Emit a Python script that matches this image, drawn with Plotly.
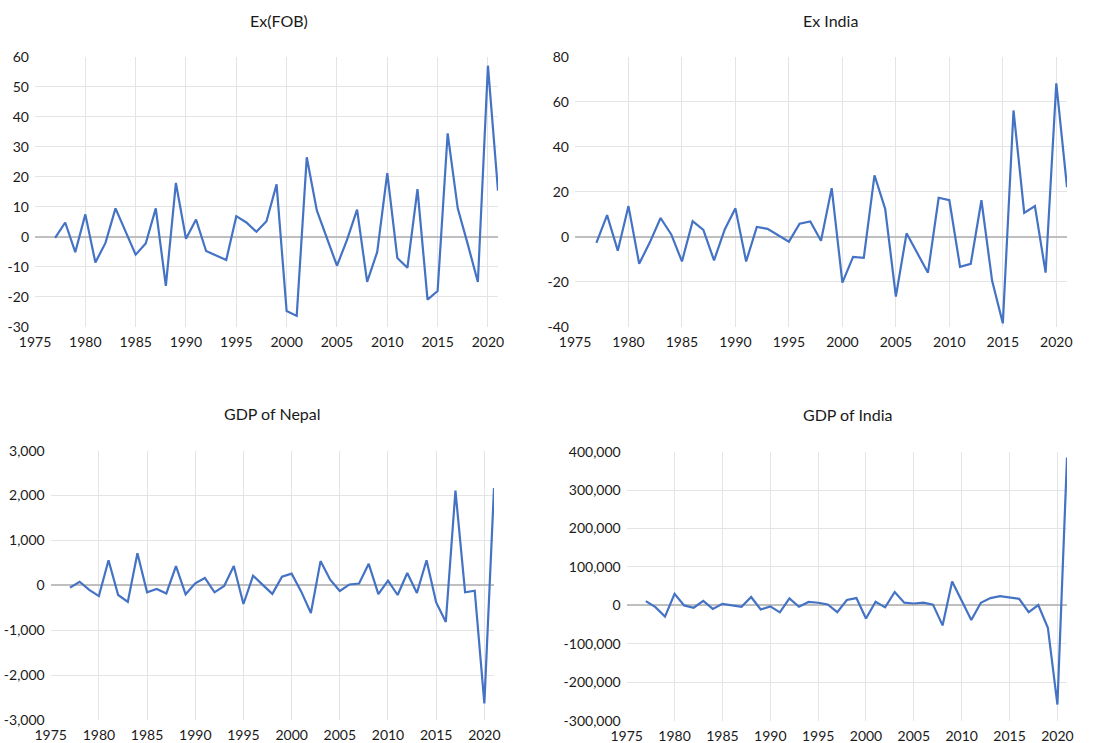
import plotly.graph_objects as go

years = list(range(1977, 2022))

ex_fob = [-0.3, 4.8, -5.1, 7.5, -8.5, -2.0, 9.5, 1.5, -5.9, -2.2,
          9.5, -16.3, 18.0, -0.6, 5.8, -4.7, -6.2, -7.7, 6.9, 4.8,
          1.7, 5.2, 17.5, -24.7, -26.3, 26.5, 8.8, -0.5, -9.6, -1.0,
          9.1, -15.0, -5.0, 21.2, -7.0, -10.3, 15.9, -20.9, -18.0, 34.5,
          9.5, -2.5, -15.0, 57.0, 15.4]

ex_india = [-2.7, 9.6, -6.2, 13.6, -12.0, -2.5, 8.3, 1.0, -11.0, 6.9,
            3.0, -10.5, 3.2, 12.6, -11.0, 4.3, 3.5, 0.5, -2.2, 5.8,
            6.8, -1.8, 21.6, -20.4, -9.0, -9.4, 27.3, 12.4, -26.6, 1.5,
            -7.0, -16.0, 17.3, 16.2, -13.4, -12.1, 16.2, -19.6, -38.5, 56.1,
            10.6, 13.6, -16.0, 68.2, 22.0]

gdp_nepal = [-50, 80, -100, -240, 560, -215, -370, 715, -155, -80,
             -180, 430, -200, 45, 165, -155, -15, 430, -415, 215,
             10, -190, 195, 260, -140, -615, 540, 125, -125, 20,
             40, 480, -195, 105, -215, 275, -170, 560, -380, -815,
             2110, -155, -120, -2630, 2170]

gdp_india = [11000, -4500, -29000, 30000, 0, -6000, 12000, -9000, 4000, 0,
             -3500, 22000, -10500, -2500, -18000, 18500, -3500, 9000, 7000, 2500,
             -17500, 14000, 19000, -34000, 9500, -5000, 35000, 7000, 5000, 7000,
             2000, -52000, 62000, 12000, -38000, 7000, 19000, 24000, 20000, 17000,
             -17500, 1000, -58000, -258000, 385000]

titles = ["Ex(FOB)", "Ex India", "GDP of Nepal", "GDP of India"]
x_ticks = list(range(1975, 2025, 5))
y_ticks_fob = list(range(-30, 70, 10))
y_ticks_india = list(range(-40, 100, 20))
y_ticks_nepal = list(range(-3000, 4000, 1000))
y_ticks_gdp_india = list(range(-300000, 500000, 100000))

W, H = 1101, 743
LINE = "#4472C4"
GRID = "#e4e4e4"
ZERO = "#bfbfbf"
TXT = "#1a1a1a"
FONT = "Lato"

panels = [
    dict(y=ex_fob, yt=y_ticks_fob, xd=(35, 498), yd=(56.7, 327.0), title=(279, 20)),
    dict(y=ex_india, yt=y_ticks_india, xd=(575, 1067), yd=(56.7, 326.7), title=(830, 20)),
    dict(y=gdp_nepal, yt=y_ticks_nepal, xd=(50.7, 494), yd=(450.7, 720.0), title=(272, 413)),
    dict(y=gdp_india, yt=y_ticks_gdp_india, xd=(626.7, 1067), yd=(451.7, 720.7), title=(847, 414)),
]


def px(x):
    return x / W


def py(y):
    return 1 - y / H


fig = go.Figure()
layout = dict(width=W, height=H, margin=dict(l=0, r=0, t=0, b=0, autoexpand=False),
              paper_bgcolor="white", plot_bgcolor="white", showlegend=False,
              font=dict(family=FONT, size=14, color=TXT))
annotations = []
for i, p in enumerate(panels):
    n = "" if i == 0 else str(i + 1)
    fig.add_trace(go.Scatter(x=years, y=p["y"], mode="lines",
                             line=dict(color=LINE, width=2.2),
                             xaxis="x" + n, yaxis="y" + n))
    layout["xaxis" + n] = dict(
        domain=[px(p["xd"][0]), px(p["xd"][1])], range=[1975, 2021],
        tickvals=x_ticks, showgrid=True, gridcolor=GRID, gridwidth=1,
        zeroline=False, showline=False, ticks="", anchor="y" + n,
        automargin=False, ticklabelstandoff=5,
        tickfont=dict(size=14, color=TXT, family=FONT), fixedrange=True)
    layout["yaxis" + n] = dict(
        domain=[py(p["yd"][1]), py(p["yd"][0])], range=[p["yt"][0], p["yt"][-1]],
        tickvals=p["yt"], ticktext=[f"{v:,}" for v in p["yt"]], showgrid=True,
        gridcolor=GRID, gridwidth=1, zeroline=True, zerolinecolor=ZERO,
        zerolinewidth=1.5, showline=False, ticks="", anchor="x" + n,
        automargin=False, ticklabelstandoff=5,
        tickfont=dict(size=14, color=TXT, family=FONT), fixedrange=True)
    annotations.append(dict(text=titles[i], x=px(p["title"][0]), y=py(p["title"][1]),
                            xref="paper", yref="paper", showarrow=False,
                            xanchor="center", yanchor="middle",
                            font=dict(size=16, color=TXT, family=FONT)))
layout["annotations"] = annotations
fig.update_layout(**layout)
fig.write_html("out.html", config={"displayModeBar": False},
               post_script="document.body.style.margin='0';document.body.style.overflow='hidden';")
